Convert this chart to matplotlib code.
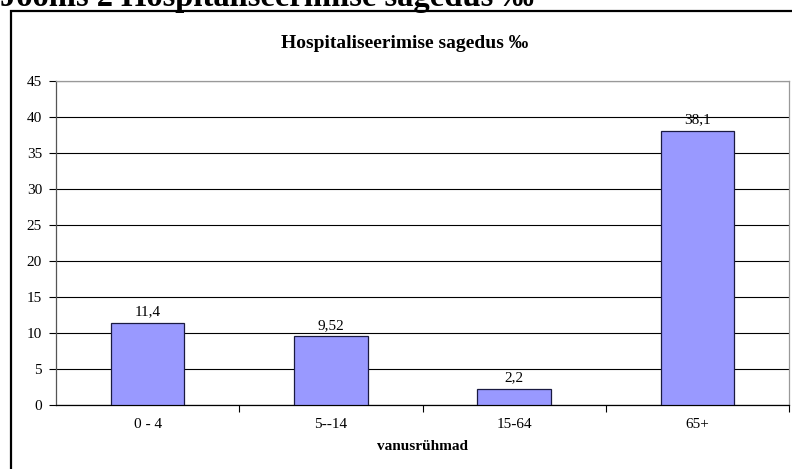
import matplotlib
import matplotlib.pyplot as plt
from matplotlib.patches import Rectangle

matplotlib.use('Agg')

# data
categories = ["0 - 4", "5--14", "15-64", "65+"]
values = [11.4, 9.52, 2.2, 38.1]
value_labels = ["11,4", "9,52", "2,2", "38,1"]
y_ticks = [0, 5, 10, 15, 20, 25, 30, 35, 40, 45]

plt.rcParams['font.family'] = ['Liberation Serif', 'DejaVu Serif']

W, H = 792, 469
fig = plt.figure(figsize=(W / 100, H / 100), dpi=100)

# outer frame of the chart object (right and bottom edges are cut off)
fig.patches.append(Rectangle((11 / W, -0.1), 1.2, (H - 11) / H + 0.1,
                             transform=fig.transFigure, fill=False,
                             edgecolor="black", linewidth=1.6))

# page caption, mostly cut off at the top
fig.text(0, 1 - 6 / H, "Joonis 2 Hospitaliseerimise sagedus ‰",
         fontsize=23.5, fontweight="bold", va="baseline", ha="left")

# chart title
fig.text(405 / W, 1 - 44 / H, "Hospitaliseerimise sagedus ‰",
         fontsize=14, fontweight="bold", va="center", ha="center")

ax = fig.add_axes([56 / W, (H - 405) / H, 733 / W, 324 / H])
x = range(len(categories))
ax.bar(x, values, width=0.4, color="#9999ff", edgecolor="#1a1a40",
       linewidth=0.9, zorder=3)

for xi, v, lab in zip(x, values, value_labels):
    ax.annotate(lab, (xi, v), xytext=(0, 8), textcoords="offset points",
                ha="center", va="center", fontsize=11)

ax.set_xlim(-0.5, len(categories) - 0.5)
ax.set_ylim(0, 45)
ax.set_yticks(y_ticks)
ax.set_yticklabels([str(t) for t in y_ticks], fontsize=11)
ax.grid(axis="y", color="black", linewidth=0.8, zorder=1)

# category labels centred, tick marks between categories
ax.set_xticks([i + 0.5 for i in range(len(categories))])
ax.set_xticklabels([])
ax.set_xticks(list(x), minor=True)
ax.set_xticklabels(categories, minor=True, fontsize=11)
ax.tick_params(axis="x", which="minor", length=0, pad=9)
ax.tick_params(axis="x", which="major", length=5, width=0.8, direction="out")
ax.tick_params(axis="y", length=5, width=0.8, direction="out", pad=5)

ax.set_xlabel("vanusrühmad", fontsize=11, fontweight="bold", labelpad=7)

for side in ["top", "right"]:
    ax.spines[side].set_color("#999999")
    ax.spines[side].set_linewidth(0.9)
ax.spines["left"].set_color("#555555")
ax.spines["left"].set_linewidth(0.9)
ax.spines["bottom"].set_color("black")
ax.spines["bottom"].set_linewidth(0.9)

plt.savefig("out.png", dpi=100)
plt.close()
